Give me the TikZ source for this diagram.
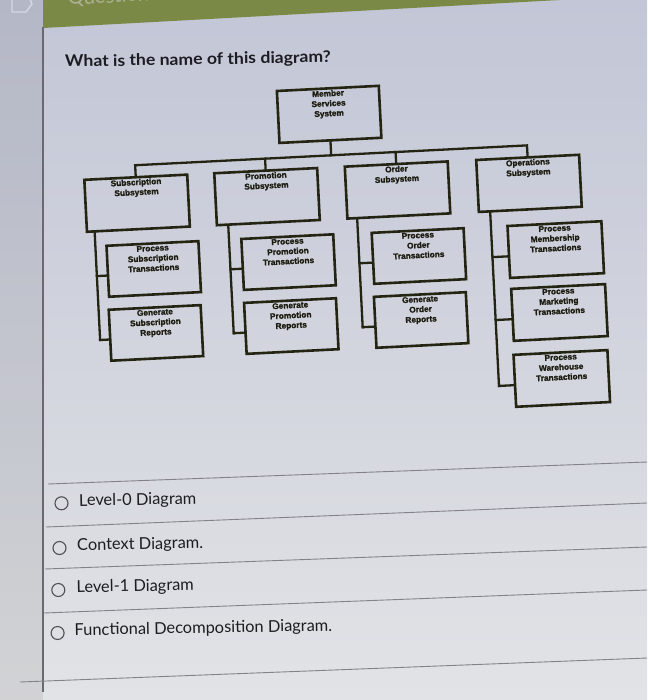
\documentclass[tikz,border=0pt]{standalone}
\usepackage{fontspec}
\setmainfont{Lato}
\newfontfamily\boxfont[BoldFeatures={FakeBold=1.6}]{Liberation Sans}
\usetikzlibrary{calc}
\definecolor{bgtop}{RGB}{194,198,214}
\definecolor{bgmid}{RGB}{204,207,221}
\definecolor{bgbot}{RGB}{226,227,230}
\definecolor{diag}{RGB}{36,36,18}
\definecolor{diagtext}{RGB}{28,28,16}
\definecolor{opttext}{RGB}{28,28,34}
\definecolor{sepcol}{RGB}{130,130,136}
\definecolor{radiocol}{RGB}{80,80,86}
\definecolor{hdr}{RGB}{122,138,70}
\definecolor{hdrtext}{RGB}{172,178,148}
\definecolor{iconcol}{RGB}{214,217,228}
\definecolor{leftline}{RGB}{105,105,112}
\begin{document}
\begin{tikzpicture}[x=1pt,y=-1pt,
  boxline/.style={draw=diag, line width=2.6pt},
  pbox/.style={boxline, minimum width=103pt, minimum height=52pt, inner sep=0pt},
  cbox/.style={boxline, minimum width=92pt, minimum height=51pt, inner sep=0pt},
  ptext/.style={font=\boxfont\bfseries\fontsize{8.3}{10}\selectfont, align=center, inner sep=0pt, anchor=north, text=diagtext},
  ctext/.style={font=\boxfont\bfseries\fontsize{8.3}{10}\selectfont, align=center, inner sep=0pt, anchor=north, text=diagtext},
  conn/.style={draw=diag, line width=2.3pt, line cap=rect},
  opt/.style={font=\fontsize{16.4}{19}\selectfont, text=opttext, anchor=base west, inner sep=0pt, rotate=1},
  radio/.style={circle, draw=radiocol, line width=1.1pt, minimum size=13pt, inner sep=0pt},
  sep/.style={draw=sepcol, line width=0.9pt}]

\useasboundingbox (0,0) rectangle (647,700);
\fill[top color=bgtop, middle color=bgmid, bottom color=bgbot] (0,0) rectangle (647,700);
\fill[black, opacity=0.07] (0,0) rectangle (43,700);

% header
\fill[hdr] (43,0) -- (560,0) -- (43,28) -- cycle;
\node[font=\fontsize{20}{24}\selectfont, text=hdrtext, anchor=base west, inner sep=0pt, rotate=3] (qnum) at (68,5) {Question 10};
\draw[iconcol, line width=1.4pt, line join=round] (12,-1) -- (12,12) -- (26,12) -- (32,4) -- (30,-1);
\draw[leftline, line width=1.1pt] (43,27) -- (43,692);

\node[font=\bfseries\fontsize{16}{19}\selectfont, text=opttext, anchor=base west, inner sep=0pt, rotate=1, xscale=1.1] (q) at (65,67) {What is the name of this diagram?};

% diagram
\begin{scope}[rotate around={2.9:(340,250)}, transform shape]
  \node[pbox, minimum width=102pt] (top) at (336,114) {};
  \node[ptext, yshift=-3pt] (ttop) at (top.north) {Member\\Services\\System};

  \node[pbox] (p1) at (139.7,193) {};
  \node[pbox] (p2) at (269.8,193) {};
  \node[pbox] (p3) at (400.5,193) {};
  \node[pbox] (p4) at (532.1,193) {};
  \node[ptext, yshift=-3pt] (tp1) at (p1.north) {Subscription\\Subsystem};
  \node[ptext, yshift=-3pt] (tp2) at (p2.north) {Promotion\\Subsystem};
  \node[ptext, yshift=-3pt] (tp3) at (p3.north) {Order\\Subsystem};
  \node[ptext, yshift=-3pt] (tp4) at (p4.north) {Operations\\Subsystem};

  \node[cbox] (c11) at (153,259.5) {};
  \node[cbox] (c12) at (152,323.5) {};
  \node[cbox] (c21) at (288,259.5) {};
  \node[cbox] (c22) at (287.5,323.5) {};
  \node[cbox] (c31) at (418.5,260) {};
  \node[cbox] (c32) at (417.5,324) {};
  \node[cbox, minimum width=94pt, minimum height=52pt] (c41) at (555.5,260.5) {};
  \node[cbox, minimum width=94pt, minimum height=52pt] (c42) at (556,323.5) {};
  \node[cbox, minimum width=94pt, minimum height=52pt] (c43) at (555,389.5) {};

  \node[ctext, yshift=-3pt] (tc11) at (c11.north) {Process\\Subscription\\Transactions};
  \node[ctext, yshift=-3pt] (tc12) at (c12.north) {Generate\\Subscription\\Reports};
  \node[ctext, yshift=-3pt] (tc21) at (c21.north) {Process\\Promotion\\Transactions};
  \node[ctext, yshift=-3pt] (tc22) at (c22.north) {Generate\\Promotion\\Reports};
  \node[ctext, yshift=-3pt] (tc31) at (c31.north) {Process\\Order\\Transactions};
  \node[ctext, yshift=-3pt] (tc32) at (c32.north) {Generate\\Order\\Reports};
  \node[ctext, yshift=-3pt] (tc41) at (c41.north) {Process\\Membership\\Transactions};
  \node[ctext, yshift=-3pt] (tc42) at (c42.north) {Process\\Marketing\\Transactions};
  \node[ctext, yshift=-3pt] (tc43) at (c43.north) {Process\\Warehouse\\Transactions};

  % bus
  \coordinate (bus) at (336,155);
  \coordinate (b1) at ($(p1.north)!(bus)!(p1.south)$);
  \coordinate (b2) at ($(p2.north)!(bus)!(p2.south)$);
  \coordinate (b3) at ($(p3.north)!(bus)!(p3.south)$);
  \coordinate (b4) at ($(p4.north)!(bus)!(p4.south)$);
  \draw[conn] (top.south) -- ($(top.south)!(bus)!(top.north)$);
  \draw[conn] (p1.north) -- (b1) -- (b4) -- (p4.north);
  \draw[conn] (p2.north) -- (b2);
  \draw[conn] (p3.north) -- (b3);

  % trunks
  \foreach \p/\f/\last in {p1/0.085/c12, p2/0.12/c22, p3/0.105/c32, p4/0.12/c43}{
    \coordinate (t\p) at ($(\p.south west)!\f!(\p.south east)$);
    \coordinate (u\p) at ($(\p.north west)!\f!(\p.north east)$);
    \draw[conn] (t\p) -- ($(t\p)!($(\last.north west)!0.58!(\last.south west)$)!(u\p)$);
  }
  \foreach \c/\p in {c11/p1, c12/p1, c21/p2, c22/p2, c31/p3, c32/p3, c41/p4, c42/p4, c43/p4}{
    \coordinate (s\c) at ($(\c.north west)!0.58!(\c.south west)$);
    \draw[conn] (s\c) -- ($(t\p)!(s\c)!(u\p)$);
  }
\end{scope}

% answer separators
\draw[sep] (48,484) -- (647,462);
\draw[sep] (46,527) -- (647,503);
\draw[sep] (45,569) -- (647,547);
\draw[sep] (44,613) -- (647,590);
\draw[sep] (20,682) -- (647,658);

\node[radio] (r1) at (61.5,503.3) {};
\node[radio] (r2) at (59.5,548) {};
\node[radio] (r3) at (58.3,590) {};
\node[radio] (r4) at (57.6,633) {};
\node[opt] (o1) at (79,506) {Level-0 Diagram};
\node[opt] (o2) at (77,550.5) {Context Diagram.};
\node[opt] (o3) at (76.5,592.5) {Level-1 Diagram};
\node[opt] (o4) at (74.5,635.5) {Functional Decomposition Diagram.};
\end{tikzpicture}
\end{document}
